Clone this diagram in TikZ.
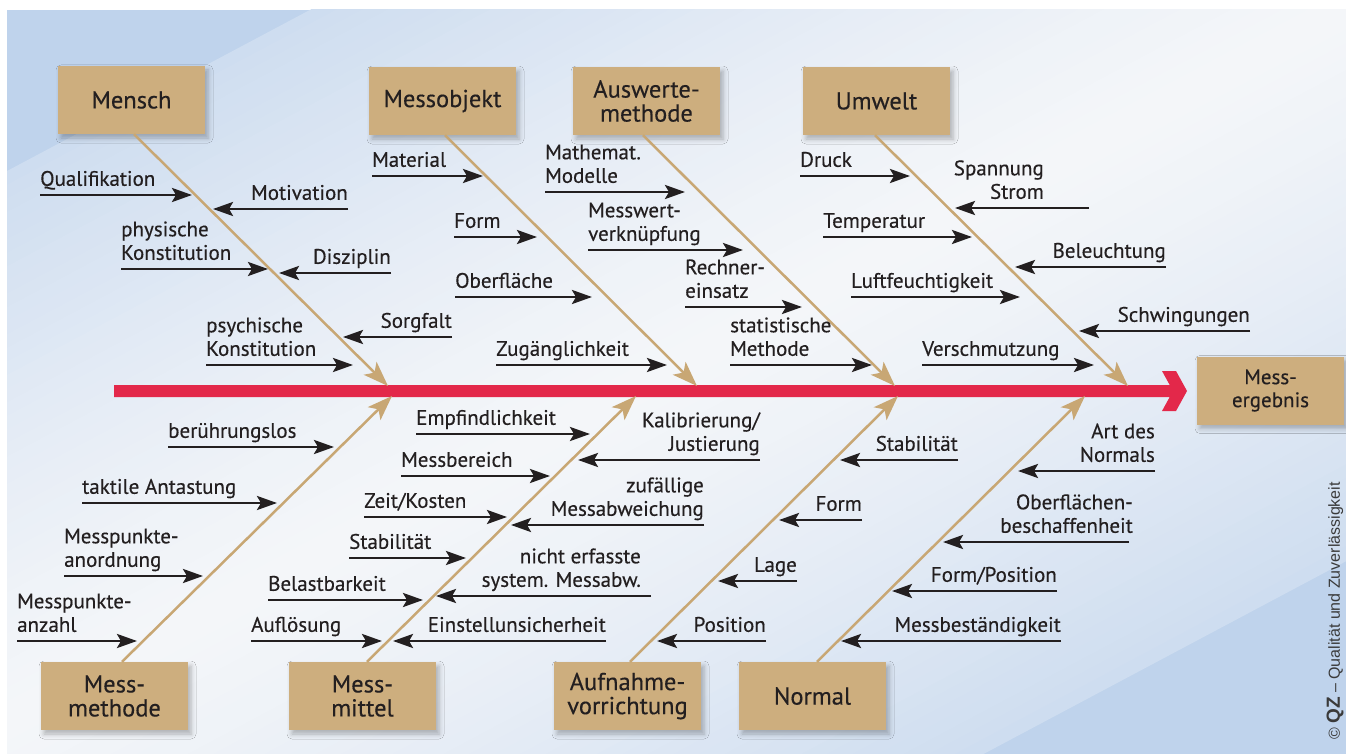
\documentclass[tikz,border=0pt]{standalone}
\usepackage{fontspec}
\setmainfont{PT Sans}
\newfontfamily\lblfont{PT Sans}[FakeBold=0.35]
\newfontfamily\copyfont{Liberation Sans}
\usetikzlibrary{arrows.meta,shadows.blur}
\definecolor{boxtan}{HTML}{CDAE7E}
\definecolor{bonetan}{HTML}{C8A774}
\definecolor{ink}{HTML}{231F20}
\definecolor{spinered}{HTML}{E3284A}
\definecolor{bgblue}{HTML}{BFD3EC}
\definecolor{bgwhite}{HTML}{F4F6F9}
\definecolor{copygray}{HTML}{3A3A3A}
\newcommand\causeright[5]{%
  \coordinate (#1-t) at (#3,#5);
  \coordinate (#1-h) at (#4,#5);
  \node[lbl, align=left, anchor=south west] (#1) at (#3,#5-9) {#2};
  \draw[cause] (#1-t) -- (#1-h);}
\newcommand\causeleft[6]{%
  \coordinate (#1-t) at (#4,#6);
  \coordinate (#1-h) at (#5,#6);
  \node[lbl, align=right, anchor=south east] (#1) at (#3,#6-9) {#2};
  \draw[cause] (#1-t) -- (#1-h);}
\begin{document}
\begin{tikzpicture}[x=1pt,y=-1pt,
  box/.style={fill=boxtan, minimum width=147pt, minimum height=68pt, inner sep=0pt,
    align=center, text=ink, font=\lblfont\fontsize{24.5}{24}\selectfont,
    blur shadow={shadow xshift=3pt, shadow yshift=-4pt, shadow blur radius=5pt, shadow opacity=28}},
  lbl/.style={font=\lblfont\fontsize{21}{23.5}\selectfont, inner sep=0pt, text depth=0pt, text=ink},
  cause/.style={line width=2.8pt, draw=ink, -{Stealth[length=20pt,width=14pt,inset=4pt]}},
  bone/.style={line width=2.5pt, draw=bonetan, -{Stealth[length=25pt,width=18pt,inset=6pt]}}]
\useasboundingbox (0,0) rectangle (1346,754);
\fill[white] (0,0) rectangle (1346,754);
\begin{scope}
  \clip (7,10) rectangle (1346,754);
  \fill[bgblue] (7,10) rectangle (1346,754);
  \begin{scope}[shift={(673,368)}, rotate=28]
    \foreach \i in {-40,...,40} {
      \pgfmathsetmacro\w{100*max(0,1-(abs(\i)/52)^1.3)}
      \fill[bgwhite!\w!bgblue] (-1200,\i*12-6.6) rectangle (1200,\i*12+6.6);
    }
  \end{scope}
\end{scope}

% boxes
\node[box] (mensch) at (131.5,100) {Mensch};
\node[box] (messobjekt) at (442.5,101) {Messobjekt};
\node[box] (auswerte) at (646.5,101) {Auswerte-\\methode};
\node[box] (umwelt) at (876.5,101) {Umwelt};
\node[box, font=\lblfont\fontsize{21}{23}\selectfont] (ergebnis) at (1270.5,390.5) {Mess-\\ergebnis};
\node[box] (messmethode) at (114.5,696) {Mess-\\methode};
\node[box] (messmittel) at (362.5,696) {Mess-\\mittel};
\node[box] (aufnahme) at (627.5,696) {Aufnahme-\\vorrichtung};
\node[box] (normal) at (812.5,696) {Normal};

% spine
\coordinate (sp-start) at (114,391);
\coordinate (sp-tip) at (1187,391);
\fill[spinered] (114,385) -- (1169.7,385) -- (1162,371) -- (1176,371) -- (sp-tip)
  -- (1176,411) -- (1162,411) -- (1169.7,397) -- (114,397) -- cycle;

% bones
\coordinate (b1) at (388,386);
\coordinate (b2) at (697,386);
\coordinate (b3) at (895,386);
\coordinate (b4) at (1128,386);
\coordinate (b5) at (392,396);
\coordinate (b6) at (636,396);
\coordinate (b7) at (898,396);
\coordinate (b8) at (1085,396);
\draw[bone] ([xshift=2.5pt]mensch.south) -- (b1);
\draw[bone] ([xshift=2.5pt]messobjekt.south) -- (b2);
\draw[bone] ([xshift=-3.5pt]auswerte.south) -- (b3);
\draw[bone] ([xshift=-1.5pt]umwelt.south) -- (b4);
\draw[bone] ([xshift=7.5pt]messmethode.north) -- (b5);
\draw[bone] ([xshift=4.5pt]messmittel.north) -- (b6);
\draw[bone] ([xshift=2.5pt]aufnahme.north) -- (b7);
\draw[bone] ([xshift=4.5pt]normal.north) -- (b8);

% Mensch
\causeright{c1}{Qualifikation}{40}{192}{195}
\causeleft{c2}{Motivation}{348}{348}{213}{209}
\causeright{c3}{physische\\Konstitution}{121}{268}{269}
\causeleft{c4}{Disziplin}{391}{391}{279}{273}
\causeright{c5}{psychische\\Konstitution}{206}{353}{365}
\causeleft{c6}{Sorgfalt}{452}{452}{343}{337}
% Messobjekt
\causeright{c7}{Material}{372}{483}{176}
\causeright{c8}{Form}{454}{537}{237}
\causeright{c9}{Oberfläche}{455}{592}{297}
\causeright{c10}{Zugänglichkeit}{496}{667}{365}
% Auswertemethode
\causeright{c11}{Mathemat.\\Modelle}{545}{685}{192}
\causeright{c12}{Messwert-\\verknüpfung}{588}{743}{250}
\causeright{c13}{Rechner-\\einsatz}{685}{802}{307}
\causeright{c14}{statistische\\Methode}{730}{872}{365}
% Umwelt
\causeright{c15}{Druck}{800}{910}{176}
\causeleft{c16}{Spannung\\Strom}{1044}{1089}{955}{208}
\causeright{c17}{Temperatur}{823}{972}{237}
\causeleft{c18}{Beleuchtung}{1166}{1166}{1015}{267}
\causeright{c19}{Luftfeuchtigkeit}{851}{1020}{297}
\causeleft{c20}{Schwingungen}{1250}{1250}{1079}{331}
\causeright{c21}{Verschmutzung}{922}{1094}{365}
% Messmethode
\causeright{c22}{berührungslos}{168}{334}{447}
\causeright{c23}{taktile Antastung}{82}{277}{503}
\causeright{c24}{Messpunkte-\\anordnung}{64}{203}{576}
\causeright{c25}{Messpunkte-\\anzahl}{17}{137}{641}
% Messmittel
\causeright{c26}{Empfindlichkeit}{416}{590}{434}
\causeright{c27}{Messbereich}{401}{550}{476}
\causeright{c28}{Zeit/Kosten}{364}{507}{517}
\causeright{c29}{Stabilität}{349}{466}{558}
\causeright{c30}{Belastbarkeit}{268}{423}{600}
\causeright{c31}{Auflösung}{251}{382}{641}
\causeleft{c32}{Kalibrierung/\\Justierung}{760}{760}{578}{460}
\causeleft{c33}{zufällige\\Messabweichung}{704}{704}{511}{525}
\causeleft{c34}{nicht erfasste\\system. Messabw.}{641}{651}{436}{596}
\causeleft{c35}{Einstellunsicherheit}{606}{606}{393}{641}
% Aufnahmevorrichtung
\causeleft{c36}{Stabilität}{958}{958}{840}{460}
\causeleft{c37}{Form}{862}{862}{779}{520}
\causeleft{c38}{Lage}{797}{797}{718}{581}
\causeleft{c39}{Position}{766}{766}{657}{641}
% Normal
\causeleft{c40}{Art des\\Normals}{1155}{1155}{1018}{471}
\causeleft{c41}{Oberflächen-\\beschaffenheit}{1133}{1129}{943}{542}
\causeleft{c42}{Form/Position}{1057}{1057}{892}{591}
\causeleft{c43}{Messbeständigkeit}{1061}{1061}{841}{641}

% copyright
\node[rotate=90, inner sep=0pt, text=copygray, font=\copyfont\fontsize{16}{18}\selectfont] (copy) at (1335,611)
  {© {\bfseries\fontsize{19}{19}\selectfont QZ} – Qualität und Zuverlässigkeit};
\end{tikzpicture}
\end{document}
